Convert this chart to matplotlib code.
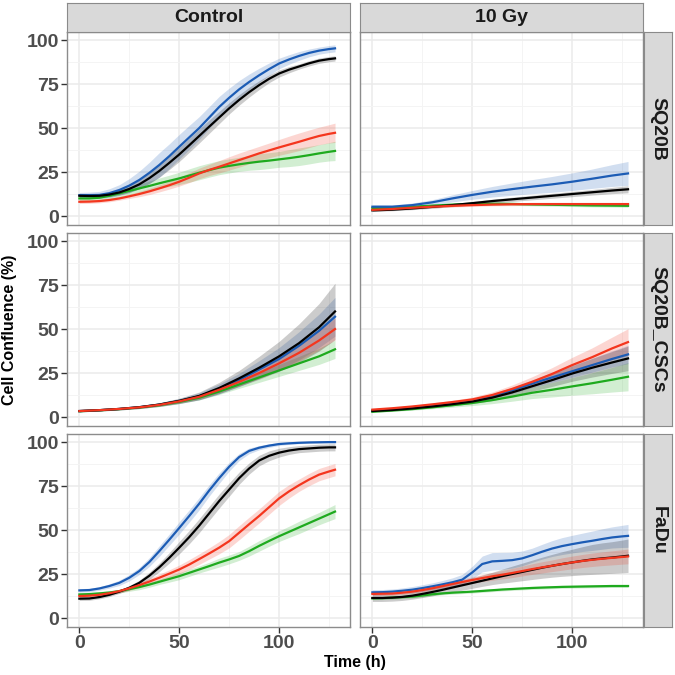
import matplotlib
matplotlib.use("Agg")
import matplotlib.pyplot as plt
import numpy as np

plt.rcParams['font.family'] = ['Liberation Sans', 'DejaVu Sans']
plt.rcParams['font.weight'] = 'bold'

# ---------------- data ----------------
TIME_10H = [0, 10, 20, 30, 40, 50, 60, 70, 80, 90, 100, 110, 120, 128]
TIME_5H = [0, 5, 10, 15, 20, 25, 30, 35, 40, 45, 50, 55, 60, 65, 70, 75, 80,
           85, 90, 95, 100, 105, 110, 115, 120, 125, 128]
ROWS = ["SQ20B", "SQ20B_CSCs", "FaDu"]
COLS = ["Control", "10 Gy"]
SERIES = ["blue", "black", "red", "green"]
COLORS = {"blue": "#1C5CB5", "black": "#000000", "red": "#F4361E", "green": "#1EAA1E"}
DRAW_ORDER = ["green", "blue", "black", "red"]
X_TICKS = [0, 50, 100]
Y_TICKS = [0, 25, 50, 75, 100]

# ---- SQ20B / Control (5 h steps) ----
sq20b_control = {
    "blue":  [11.9, 11.9, 12.0, 13.0, 14.8, 17.3, 20.5, 24.5, 29.0, 34.0, 39.4, 44.7, 50.0, 56.0,
              62.0, 67.2, 72.0, 76.2, 80.0, 83.5, 86.7, 89.0, 91.0, 92.7, 94.0, 94.9, 95.3],
    "black": [11.5, 11.4, 11.5, 12.2, 13.4, 15.4, 18.0, 21.5, 25.6, 30.2, 35.0, 40.2, 45.5, 50.8,
              56.0, 61.2, 66.0, 70.4, 74.4, 78.0, 81.0, 83.2, 85.0, 86.8, 88.3, 89.2, 89.6],
    "red":   [8.1, 8.2, 8.5, 9.1, 10.0, 11.2, 12.5, 14.0, 15.7, 17.5, 19.5, 21.8, 24.2, 26.2,
              28.0, 29.9, 31.8, 33.7, 35.6, 37.3, 39.0, 40.6, 42.2, 43.9, 45.5, 46.7, 47.3],
    "green": [10.0, 10.0, 10.4, 11.5, 12.9, 14.3, 15.7, 17.1, 18.6, 20.0, 21.4, 23.0, 24.6, 26.1,
              27.5, 28.5, 29.4, 30.2, 30.9, 31.5, 32.2, 32.9, 33.7, 34.6, 35.6, 36.5, 37.0],
}
sq20b_control_sd = {
    "blue":  [1.5, 1.7, 2, 2.5, 3, 4, 5, 6, 7, 7, 7, 6.8, 6.5, 6.2, 6, 5.5, 5, 4.5, 4, 3.5, 3,
              2.7, 2.5, 2.2, 2, 2, 2],
    "black": [1, 1, 1, 1.2, 1.5, 2, 2.5, 3, 3.5, 3.8, 4, 4, 4, 3.8, 3.5, 3.2, 3, 2.8, 2.5, 2.2,
              2, 1.8, 1.5, 1.5, 1.5, 1.5, 1.5],
    "red":   [1, 1, 1, 1, 1, 1.2, 1.5, 1.8, 2, 2.2, 2.5, 2.8, 3, 3.2, 3.5, 3.8, 4, 4, 4, 4.2,
              4.5, 4.8, 5, 5, 5, 5.2, 5.5],
    "green": [1.5, 1.5, 1.5, 1.8, 2, 2.2, 2.5, 2.8, 3, 3.2, 3.5, 3.8, 4, 4, 4, 4, 4, 4.2, 4.5,
              4.5, 4.5, 4.8, 5, 5, 5, 5.2, 5.5],
}
# ---- SQ20B / 10 Gy (10 h steps) ----
sq20b_10gy = {
    "blue":  [5.3, 5.3, 6.2, 7.8, 10.0, 12.0, 13.8, 15.3, 16.7, 18.0, 19.5, 21.2, 23.0, 24.2],
    "black": [3.2, 3.6, 4.3, 5.2, 6.2, 7.3, 8.5, 9.5, 10.5, 11.5, 12.5, 13.5, 14.5, 15.2],
    "red":   [3.5, 4.0, 4.7, 5.3, 5.8, 6.2, 6.5, 6.7, 6.8, 6.8, 6.8, 6.8, 6.8, 6.8],
    "green": [4.5, 4.8, 5.3, 5.9, 6.5, 6.9, 7.0, 6.9, 6.6, 6.4, 6.2, 6.0, 5.9, 5.8],
}
sq20b_10gy_sd = {
    "blue":  [1, 1, 1.2, 1.5, 2, 2.5, 3, 3.5, 4, 4.5, 5, 5.5, 6.2, 6.8],
    "black": [0.6, 0.6, 0.7, 0.8, 0.9, 1, 1.1, 1.2, 1.3, 1.4, 1.5, 1.6, 1.8, 2],
    "red":   [0.6, 0.6, 0.6, 0.7, 0.7, 0.7, 0.7, 0.8, 0.8, 0.8, 0.8, 0.8, 0.8, 0.8],
    "green": [0.6, 0.6, 0.6, 0.7, 0.7, 0.7, 0.7, 0.8, 0.8, 0.8, 0.8, 0.8, 0.8, 0.8],
}
# ---- SQ20B_CSCs / Control (10 h steps) ----
cscs_control = {
    "blue":  [3.4, 3.9, 4.6, 5.6, 7.0, 9.1, 11.8, 16.0, 21.0, 27.0, 33.0, 40.5, 49.0, 57.0],
    "black": [3.4, 3.9, 4.6, 5.6, 7.1, 9.2, 12.0, 16.5, 22.0, 28.0, 34.5, 42.0, 51.0, 60.0],
    "red":   [3.4, 3.9, 4.6, 5.5, 6.9, 8.9, 11.5, 15.5, 20.0, 25.0, 30.5, 36.5, 43.5, 50.0],
    "green": [3.3, 3.8, 4.5, 5.4, 6.7, 8.6, 11.0, 14.5, 18.5, 22.5, 26.5, 30.5, 34.5, 38.5],
}
cscs_control_sd = {
    "blue":  [0.5, 0.5, 0.6, 0.8, 1, 1.4, 2, 2.8, 3.8, 5, 6.5, 8, 9.5, 11],
    "black": [0.5, 0.5, 0.6, 0.8, 1, 1.5, 2.2, 3.2, 4.5, 6.5, 8.5, 11, 13.5, 16],
    "red":   [0.4, 0.4, 0.5, 0.6, 0.8, 1, 1.3, 1.8, 2.4, 3.1, 3.9, 4.7, 5.5, 6.2],
    "green": [0.4, 0.4, 0.5, 0.6, 0.8, 1, 1.3, 1.7, 2.2, 2.8, 3.4, 4, 4.6, 5.2],
}
# ---- SQ20B_CSCs / 10 Gy (10 h steps) ----
cscs_10gy = {
    "blue":  [3.8, 4.5, 5.4, 6.6, 8.0, 9.6, 12.0, 15.2, 19.0, 22.5, 26.0, 29.5, 33.0, 35.6],
    "black": [3.4, 4.0, 4.9, 6.0, 7.3, 8.8, 11.0, 14.0, 17.5, 21.0, 24.7, 28.0, 31.0, 33.3],
    "red":   [4.2, 5.0, 6.0, 7.2, 8.5, 10.0, 12.5, 16.0, 20.0, 24.5, 29.5, 34.0, 39.0, 42.6],
    "green": [3.0, 3.7, 4.5, 5.5, 6.7, 8.0, 9.6, 11.6, 13.8, 15.5, 17.4, 19.2, 21.2, 22.9],
}
cscs_10gy_sd = {
    "blue":  [0.4, 0.4, 0.5, 0.6, 0.8, 1, 1.3, 1.7, 2.2, 2.8, 3.4, 4, 4.6, 5.2],
    "black": [0.4, 0.4, 0.5, 0.7, 0.9, 1.2, 1.6, 2.1, 2.8, 3.6, 4.4, 5.3, 6.2, 7],
    "red":   [0.5, 0.5, 0.6, 0.8, 1, 1.3, 1.7, 2.2, 2.9, 3.6, 4.4, 5.3, 6.4, 7.6],
    "green": [0.4, 0.5, 0.6, 0.8, 1.1, 1.5, 2, 2.6, 3.3, 4.1, 5, 6, 7, 8],
}
# ---- FaDu / Control (5 h steps) ----
fadu_control = {
    "blue":  [15.7, 15.9, 16.8, 18.2, 20.0, 22.9, 26.7, 31.8, 38.0, 44.5, 51.2, 58.0, 65.0, 72.5,
              79.5, 86.0, 91.5, 95.0, 96.8, 98.0, 98.9, 99.3, 99.6, 99.8, 99.9, 100.0, 100.0],
    "black": [11.0, 11.1, 11.9, 13.2, 15.0, 17.2, 20.0, 24.0, 28.8, 34.2, 40.0, 46.0, 52.5, 59.5,
              66.5, 73.0, 79.5, 85.0, 89.5, 92.2, 94.0, 95.2, 96.0, 96.4, 96.8, 97.0, 97.0],
    "red":   [12.5, 12.7, 13.2, 14.1, 15.3, 16.9, 18.7, 20.7, 22.9, 25.2, 27.6, 30.4, 33.5, 36.7,
              40.0, 43.7, 48.5, 53.3, 58.0, 63.0, 68.0, 72.0, 75.5, 78.7, 81.5, 83.3, 84.3],
    "green": [13.4, 13.6, 14.0, 14.5, 15.3, 16.4, 17.6, 19.0, 20.6, 22.2, 23.8, 25.7, 27.6, 29.5,
              31.5, 33.3, 35.3, 38.0, 41.0, 43.8, 46.5, 49.0, 51.5, 54.0, 56.5, 59.0, 60.5],
}
fadu_control_sd = {
    "blue":  [1, 1, 1, 1.2, 1.5, 1.8, 2, 2.5, 3, 3.2, 3.5, 3.5, 3.5, 3.2, 3, 2.5, 2, 1.6, 1.2,
              1, 0.8, 0.6, 0.5, 0.5, 0.5, 0.5, 0.5],
    "black": [1, 1, 1, 1, 1, 1.2, 1.5, 2, 2.5, 3, 3.5, 3.8, 4, 4, 4, 3.8, 3.5, 3.2, 3, 2.8,
              2.5, 2.2, 2, 2, 2, 2, 2],
    "red":   [1, 1, 1, 1, 1, 1.2, 1.5, 1.8, 2, 2.2, 2.5, 2.8, 3, 3.2, 3.5, 3.8, 4, 4, 4, 4, 4,
              3.8, 3.5, 3.5, 3.5, 3.5, 3.5],
    "green": [1, 1, 1, 1, 1, 1.2, 1.5, 1.5, 1.5, 1.8, 2, 2, 2, 2.2, 2.5, 2.5, 2.5, 2.8, 3, 3,
              3, 3.2, 3.5, 3.5, 3.5, 3.8, 4],
}
# ---- FaDu / 10 Gy (5 h steps) ----
fadu_10gy = {
    "blue":  [14.6, 14.7, 15.0, 15.5, 16.1, 17.0, 18.0, 19.1, 20.3, 21.8, 25.9, 30.7, 32.2, 32.5,
              32.9, 33.9, 35.7, 37.7, 39.5, 40.9, 42.0, 43.0, 43.9, 44.9, 45.8, 46.4, 46.7],
    "black": [11.4, 11.4, 11.6, 12.0, 12.7, 13.7, 14.8, 16.0, 17.3, 18.6, 19.9, 21.2, 22.5, 23.8,
              25.0, 26.2, 27.4, 28.6, 29.7, 30.7, 31.6, 32.5, 33.3, 33.9, 34.4, 35.0, 35.4],
    "red":   [13.7, 13.8, 13.9, 14.4, 15.0, 15.9, 16.9, 18.1, 19.3, 20.5, 21.6, 22.7, 23.7, 24.6,
              25.6, 26.7, 27.8, 28.8, 29.7, 30.7, 31.6, 32.4, 33.1, 33.7, 34.2, 34.7, 35.0],
    "green": [11.2, 11.3, 11.6, 11.9, 12.2, 12.8, 13.5, 14.0, 14.4, 14.7, 15.0, 15.4, 15.8, 16.2,
              16.5, 16.8, 17.1, 17.3, 17.5, 17.7, 17.8, 17.9, 18.0, 18.1, 18.2, 18.2, 18.2],
}
fadu_10gy_sd = {
    "blue":  [1.5, 1.5, 1.5, 1.6, 1.8, 1.9, 2, 2.2, 2.5, 3, 3.5, 4.5, 5, 4.8, 4.5, 4.2, 4, 4.2,
              4.5, 4.8, 5, 5.2, 5.5, 5.8, 6, 6.3, 6.5],
    "black": [2, 2, 2, 2, 2, 2.1, 2.2, 2.3, 2.5, 2.8, 3, 3.2, 3.5, 4, 4.5, 5, 5.5, 6, 6.5, 7,
              7.5, 8, 8.5, 8.8, 9, 9.3, 9.5],
    "red":   [1, 1, 1, 1, 1, 1.1, 1.2, 1.3, 1.5, 1.6, 1.8, 2, 2.2, 2.4, 2.6, 2.8, 3, 3.2, 3.3,
              3.5, 3.6, 3.7, 3.8, 3.9, 4, 4.1, 4.2],
    "green": [0.8, 0.8, 0.8, 0.8, 0.8, 0.8, 0.8, 0.8, 0.8, 0.8, 0.8, 0.8, 0.8, 0.8, 0.8, 0.8,
              0.8, 0.8, 0.8, 0.8, 0.8, 0.8, 0.8, 0.8, 0.8, 0.8, 0.8],
}

PANELS = {
    ("SQ20B", "Control"): (TIME_5H, sq20b_control, sq20b_control_sd),
    ("SQ20B", "10 Gy"): (TIME_10H, sq20b_10gy, sq20b_10gy_sd),
    ("SQ20B_CSCs", "Control"): (TIME_10H, cscs_control, cscs_control_sd),
    ("SQ20B_CSCs", "10 Gy"): (TIME_10H, cscs_10gy, cscs_10gy_sd),
    ("FaDu", "Control"): (TIME_5H, fadu_control, fadu_control_sd),
    ("FaDu", "10 Gy"): (TIME_5H, fadu_10gy, fadu_10gy_sd),
}

# ---------------- layout ----------------
W = H = 675
fig = plt.figure(figsize=(6.75, 6.75), dpi=100)


def rect(x0, y0, x1, y1):
    return [x0 / W, 1 - y1 / H, (x1 - x0) / W, (y1 - y0) / H]


col_x = [(67, 350), (360, 643)]
row_y = [(32, 225), (233, 426), (434, 627)]
strip_top = (3, 32)
strip_right = (644, 672)

BORDER = "#8C8C8C"
STRIP_BG = "#D9D9D9"
STRIP_EDGE = "#8A8A8A"

for ri, rname in enumerate(ROWS):
    for ci, cname in enumerate(COLS):
        x0, x1 = col_x[ci]
        y0, y1 = row_y[ri]
        ax = fig.add_axes(rect(x0, y0, x1, y1))
        ax.set_xlim(-6.2, 135.5)
        ax.set_ylim(-5.1, 104.6)
        ax.set_xticks(X_TICKS)
        ax.set_xticks([25, 75, 125], minor=True)
        ax.set_yticks(Y_TICKS)
        ax.set_yticks([12.5, 37.5, 62.5, 87.5], minor=True)
        ax.grid(which="major", color="#EBEBEB", lw=1.1)
        ax.grid(which="minor", color="#F4F4F4", lw=0.7)
        ax.set_axisbelow(True)
        for s in ax.spines.values():
            s.set_color(BORDER)
            s.set_linewidth(1.0)
        ax.tick_params(which="minor", length=0)
        ax.tick_params(which="major", length=4, width=1.0, color="#333333",
                       labelsize=14, labelcolor="#4D4D4D", pad=2)
        if ci == 0:
            ax.set_yticklabels([str(v) for v in Y_TICKS])
        else:
            ax.tick_params(axis="y", length=0, labelleft=False)
        if ri == len(ROWS) - 1:
            ax.set_xticklabels([str(v) for v in X_TICKS])
        else:
            ax.tick_params(axis="x", length=0, labelbottom=False)

        times, means, sds = PANELS[(rname, cname)]
        t = np.array(times, dtype=float)
        for s in DRAW_ORDER:
            m = np.array(means[s])
            sd = np.array(sds[s])
            ax.fill_between(t, m - sd, m + sd, color=COLORS[s], alpha=0.2, lw=0)
        for s in DRAW_ORDER:
            ax.plot(t, means[s], color=COLORS[s], lw=1.6, solid_joinstyle="round")

        # top strips
        if ri == 0:
            sax = fig.add_axes(rect(x0, strip_top[0], x1, strip_top[1]))
            sax.set_facecolor(STRIP_BG)
            sax.set_xticks([]); sax.set_yticks([])
            for sp in sax.spines.values():
                sp.set_color(STRIP_EDGE)
            sax.text(0.5, 0.5, cname, transform=sax.transAxes, ha="center",
                     va="center", fontsize=14, color="#1A1A1A", fontweight="bold")
        # right strips
        if ci == len(COLS) - 1:
            rax = fig.add_axes(rect(strip_right[0], y0, strip_right[1], y1))
            rax.set_facecolor(STRIP_BG)
            rax.set_xticks([]); rax.set_yticks([])
            for sp in rax.spines.values():
                sp.set_color(STRIP_EDGE)
            rax.text(0.5, 0.5, rname, transform=rax.transAxes, ha="center",
                     va="center", fontsize=14, color="#1A1A1A", rotation=-90,
                     fontweight="bold")

fig.text(10 / W, 1 - 329.5 / H, "Cell Confluence (%)", rotation=90,
         ha="center", va="center", fontsize=11.5, color="black", fontweight="bold")
fig.text(355 / W, 1 - 663 / H, "Time (h)", ha="center", va="center",
         fontsize=11.5, color="black", fontweight="bold")

fig.savefig("out.png", dpi=100, facecolor="white")
